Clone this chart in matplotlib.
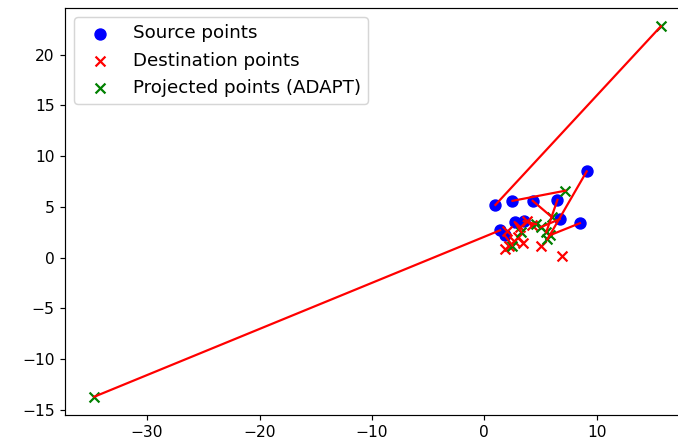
import numpy as np
import matplotlib
matplotlib.use("Agg")
import matplotlib.pyplot as plt

# source points (blue)
src_x = [0.98, 2.5, 4.3, 6.5, 9.1, 1.4, 1.8, 2.7, 3.5, 6.7, 8.5]
src_y = [5.2, 5.6, 5.6, 5.7, 8.5, 2.7, 2.2, 3.5, 3.6, 3.8, 3.4]

# destination points (red)
dst_x = [1.8, 2.2, 2.6, 3.0, 3.4, 3.8, 2.0, 3.2, 4.2, 5.0, 6.9]
dst_y = [0.9, 1.2, 1.6, 2.0, 1.4, 3.6, 2.6, 3.0, 3.2, 1.2, 0.2]

# projected points (green), same order as source points
prj_x = [15.7, 7.2, 6.0, 5.5, 5.6, -34.7, 2.5, 3.3, 4.6, 5.0, 5.8]
prj_y = [22.8, 6.6, 4.0, 2.5, 1.8, -13.7, 1.2, 2.5, 3.3, 3.0, 2.2]

W, H = 678, 448
dpi = 106
fig = plt.figure(figsize=(W / dpi, H / dpi), dpi=dpi)
ax = fig.add_axes([65 / W, (H - 415) / H, (689 - 65) / W, (415 - 8) / H])

ax.scatter(src_x, src_y, c="blue", marker="o", s=55, label="Source points")
ax.scatter(dst_x, dst_y, c="red", marker="x", s=45, label="Destination points")
ax.scatter(prj_x, prj_y, c="green", marker="x", s=45, label="Projected points (ADAPT)")

# line from each source point to its projection
for i in range(len(src_x)):
    ax.plot([src_x[i], prj_x[i]], [src_y[i], prj_y[i]], "r-")

ax.set_xlim(-37.3, 18.2)
ax.set_ylim(-15.5, 24.6)
ax.tick_params(labelsize=10.5)
ax.legend(loc="upper left", fontsize=12.4)

fig.savefig("out.png", dpi=dpi)
